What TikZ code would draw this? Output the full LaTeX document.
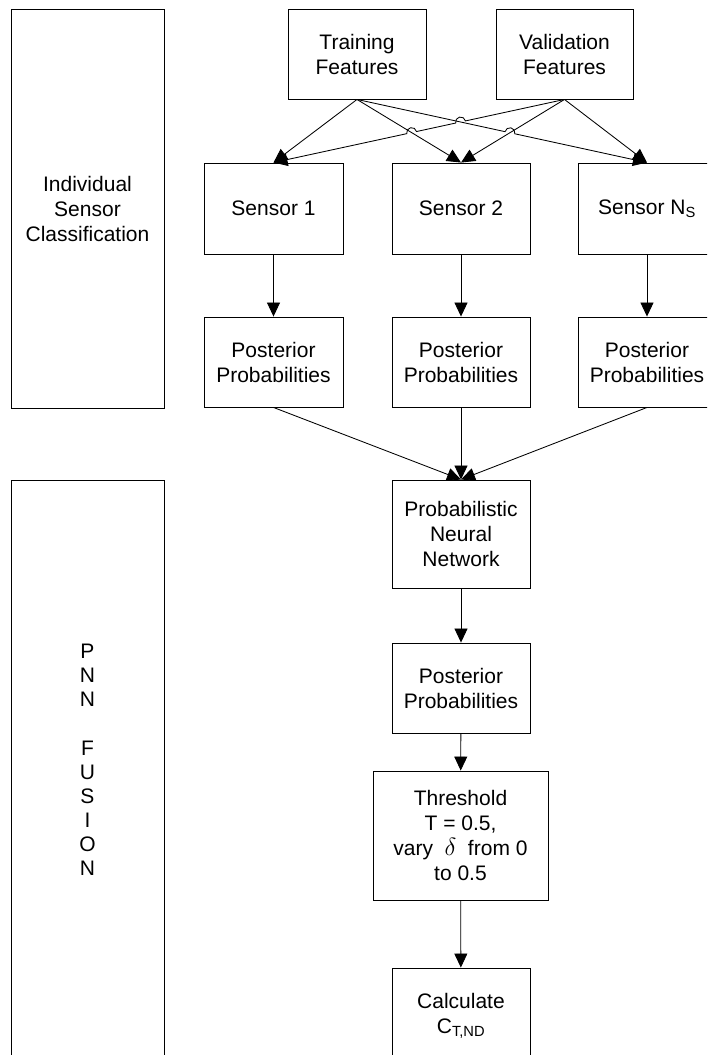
\documentclass[tikz,border=0pt]{standalone}
\usepackage{fontspec}
\setmainfont{Liberation Sans}
\usetikzlibrary{arrows.meta,calc,intersections}
\begin{document}
\begin{tikzpicture}[x=1pt,y=-1pt,
  box/.style={draw=black, line width=0.9pt, fill=white, inner sep=0pt,
    align=center, font=\fontsize{21}{25}\selectfont},
  stagebox/.style={box, minimum width=153pt},
  procbox/.style={box, minimum width=138pt, minimum height=90pt},
  flow/.style={draw=black, line width=0.85pt, -{Triangle[length=14pt,width=13pt]}},
  backflow/.style={draw=black, line width=0.85pt, {Triangle[length=14pt,width=13pt]}-},
]
\useasboundingbox (0,0) rectangle (707,1055);
\clip (0,0) rectangle (707,1055);
\fill[white] (0,0) rectangle (707,1055);
\def\hoprad{5pt}

% stage frames on the left
\node[stagebox, minimum height=399pt] (stage1) at (87.5,208.5)
  {Individual\\Sensor\\Classification};
\node[stagebox, minimum height=590pt] (stage2) at (87.5,775) {};
\node[align=center, inner sep=0pt, font=\fontsize{21}{24.1}\selectfont]
  (stage2label) at (87.5,760) {P\\N\\N\\\mbox{}\\F\\U\\S\\I\\O\\N};

% feature sources
\node[procbox] (train) at (357,54) {Training\\Features};
\node[procbox, minimum width=137pt] (val) at (564.5,54) {Validation\\Features};

% sensors
\node[procbox, minimum height=91pt, minimum width=139pt] (s1) at (273.5,208.5) {Sensor 1};
\node[procbox, minimum height=91pt] (s2) at (461,208.5) {Sensor 2};
\node[procbox, minimum height=91pt] (sn) at (647,208.5) {Sensor N\textsubscript{S}};

% per-sensor posteriors
\node[procbox, minimum width=139pt] (pp1) at (273.5,362) {Posterior\\Probabilities};
\node[procbox] (pp2) at (461,362) {Posterior\\Probabilities};
\node[procbox] (ppn) at (647,362) {Posterior\\Probabilities};

% fusion chain
\node[procbox, minimum height=108pt] (pnn) at (461,534) {Probabilistic\\Neural\\Network};
\node[procbox] (ppf) at (461,688) {Posterior\\Probabilities};
\node[procbox, minimum width=175pt, minimum height=129pt] (thr) at (460.5,835.5)
  {Threshold\\T = 0.5,\\vary\hspace{0.55em}{\fontsize{27}{25}\selectfont$\delta$}\hspace{0.55em}from 0\\to 0.5};
\node[procbox, minimum height=95pt] (calc) at (461,1015.5) {Calculate\\C\textsubscript{T,ND}};

% crossing points of the feature connectors
\path[name path=pB] (train.south) -- (s2.north);
\path[name path=pC] (train.south) -- (sn.north);
\path[name path=pD] (s1.north) -- (val.south);
\path[name path=pE] (val.south) -- (s2.north);
\path[name intersections={of=pB and pD, by=xBD}];
\path[name intersections={of=pC and pD, by=xCD}];
\path[name intersections={of=pC and pE, by=xCE}];

% feature connectors
\draw[flow] (train.south) -- (s1.north);
\draw[flow] (train.south) -- (s2.north);
\draw[backflow] let \p1=($(val.south)-(s1.north)$), \n1={atan2(\y1,\x1)} in
  (s1.north) -- ($(xBD)!\hoprad!(s1.north)$)
  arc[start angle=\n1+180, end angle=\n1, radius=\hoprad]
  -- ($(xCD)!\hoprad!(s1.north)$)
  arc[start angle=\n1+180, end angle=\n1, radius=\hoprad]
  -- (val.south);
\draw[flow] (val.south) -- (s2.north);
\draw[flow] let \p1=($(sn.north)-(train.south)$), \n1={atan2(\y1,\x1)} in
  (train.south) -- ($(xCE)!\hoprad!(train.south)$)
  arc[start angle=\n1+180, end angle=\n1, radius=\hoprad]
  -- (sn.north);
\draw[flow] (val.south) -- (sn.north);

% sensor outputs
\draw[flow] (s1) -- (pp1);
\draw[flow] (s2) -- (pp2);
\draw[flow] (sn) -- (ppn);

% fusion
\draw[flow] (pp1.south) -- (pnn.north);
\draw[flow] (pp2.south) -- (pnn.north);
\draw[flow] (ppn.south) -- (pnn.north);
\draw[flow] (pnn) -- (ppf);
\draw[flow] (ppf) -- (thr);
\draw[flow] (thr) -- (calc);
\end{tikzpicture}
\end{document}
